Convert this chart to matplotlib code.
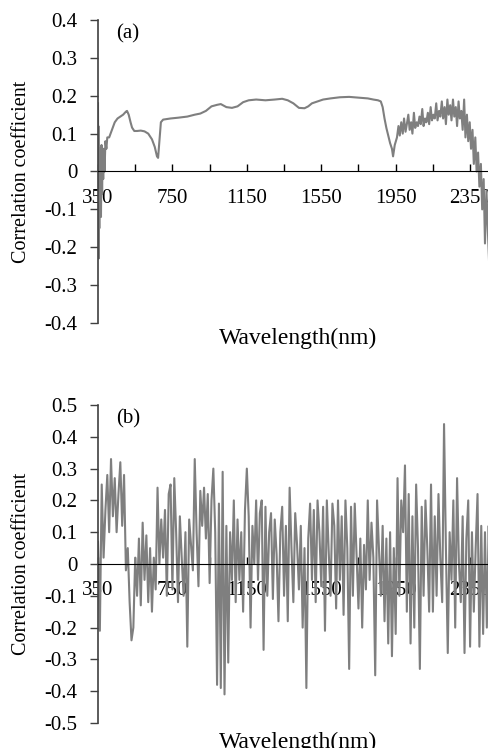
import matplotlib
matplotlib.use('Agg')
import matplotlib.pyplot as plt
import numpy as np

plt.rcParams['font.family'] = ['Liberation Serif', 'DejaVu Serif']

# (a) correlation curve
wl_a = [350, 351, 352, 353, 355, 357, 359, 361, 363, 366, 369, 372, 375, 378, 381, 385,
        390, 395, 400, 410, 425, 440, 455, 470, 485, 500, 506, 515, 525, 533, 545, 560,
        580, 600, 620, 640, 655, 667, 673, 680, 688, 700, 740, 780, 830, 870, 900, 930,
        960, 990, 1010, 1040, 1070, 1100, 1130, 1160, 1200, 1250, 1300, 1340, 1370, 1400,
        1430, 1460, 1480, 1500, 1530, 1560, 1600, 1650, 1700, 1750, 1800, 1830, 1855, 1870,
        1880, 1890, 1900, 1910, 1920, 1930, 1936, 1945, 1957,
        1965, 1972, 1980, 1988, 1995, 2003, 2010, 2018, 2025, 2033, 2040, 2048, 2055, 2063,
        2070, 2078, 2085, 2093, 2100, 2108, 2115, 2123, 2130, 2138, 2145, 2153, 2160, 2168,
        2175, 2183, 2190, 2198, 2205, 2213, 2220, 2228, 2235, 2243, 2250, 2258, 2265, 2273,
        2280, 2288, 2295, 2303, 2310, 2318, 2325, 2333, 2340, 2348, 2355, 2363, 2370, 2378,
        2385, 2393, 2400, 2408, 2415, 2423, 2430, 2438, 2445, 2453, 2460, 2470, 2480, 2490, 2500]
r_a = [0.18, -0.05, 0.12, -0.23, 0.03, -0.15, 0.06, -0.1, 0.05, -0.12, 0.07, -0.06, 0.05, -0.02, 0.06, 0.0,
       0.08, 0.06, 0.09, 0.09, 0.11, 0.13, 0.14, 0.145, 0.15, 0.158, 0.16, 0.15, 0.13, 0.116, 0.107, 0.107,
       0.108, 0.106, 0.1, 0.085, 0.065, 0.04, 0.036, 0.08, 0.13, 0.137, 0.14, 0.142, 0.145, 0.15, 0.153, 0.16,
       0.172, 0.176, 0.178, 0.17, 0.168, 0.172, 0.183, 0.188, 0.19, 0.188, 0.19, 0.192, 0.188, 0.18,
       0.168, 0.167, 0.172, 0.18, 0.185, 0.19, 0.193, 0.196, 0.197, 0.195, 0.193, 0.19, 0.188, 0.185,
       0.17, 0.14, 0.115, 0.095, 0.075, 0.06, 0.04, 0.07, 0.09,
       0.12, 0.095, 0.13, 0.1, 0.14, 0.105, 0.125, 0.15, 0.11, 0.13, 0.1, 0.155, 0.115, 0.13,
       0.12, 0.145, 0.125, 0.165, 0.12, 0.14, 0.13, 0.155, 0.125, 0.17, 0.135, 0.15, 0.14, 0.18,
       0.135, 0.16, 0.145, 0.185, 0.14, 0.17, 0.125, 0.19, 0.15, 0.175, 0.135, 0.19, 0.145, 0.17,
       0.12, 0.185, 0.14, 0.16, 0.11, 0.19, 0.09, 0.15, 0.08, 0.13, 0.06, 0.11, 0.02, 0.09,
       0.0, 0.05, -0.04, 0.02, -0.1, -0.02, -0.19, -0.05, -0.15, -0.25, -0.1, -0.2, -0.15, -0.25, -0.2]

# (b) correlation values, one every 10 nm from 350 to 2500
wl_b = np.arange(350, 2501, 10)
r_b = [0.07, -0.21, 0.25, 0.02, 0.17, 0.28, 0.1, 0.33, 0.15, 0.27,
       0.1, 0.22, 0.32, 0.12, 0.28, -0.02, 0.05, -0.12, -0.24, -0.2,
       0.02, -0.1, 0.08, -0.13, 0.13, -0.05, 0.09, -0.12, 0.05, -0.15,
       0.02, -0.08, 0.24, 0.0, 0.14, 0.02, 0.17, -0.1, 0.22, 0.25,
       -0.08, 0.27, 0.1, -0.12, 0.15, 0.02, -0.1, 0.1, -0.26, 0.14,
       0.06, -0.02, 0.33, 0.1, -0.07, 0.23, 0.12, 0.24, 0.08, 0.22,
       -0.06, 0.2, 0.3, 0.1, -0.38, 0.19, -0.39, 0.29, -0.41, 0.12,
       -0.31, 0.1, -0.05, 0.2, -0.12, 0.14, -0.05, 0.1, -0.15, 0.17,
       0.3, 0.15, -0.2, 0.12, 0.0, 0.2, -0.05, 0.16, 0.2, -0.27,
       0.18, -0.1, 0.1, 0.16, -0.11, 0.14, 0.03, -0.18, 0.1, 0.18,
       -0.1, 0.12, -0.18, 0.24, 0.05, -0.12, 0.16, 0.06, -0.08, 0.12,
       -0.2, 0.05, -0.39, 0.08, 0.19, -0.05, 0.17, -0.12, 0.2, 0.1,
       -0.07, 0.18, -0.21, 0.2, 0.04, -0.1, 0.19, 0.12, -0.14, 0.2,
       -0.05, 0.15, -0.16, 0.2, 0.05, -0.33, 0.18, -0.1, 0.19, 0.02,
       -0.14, 0.08, -0.2, 0.06, -0.08, 0.2, -0.05, 0.13, 0.02, -0.35,
       0.2, 0.05, -0.1, 0.12, -0.18, 0.08, -0.25, 0.1, -0.29, 0.05,
       -0.22, 0.27, -0.1, 0.2, 0.1, 0.31, -0.15, 0.22, -0.25, 0.15,
       -0.2, 0.25, 0.05, -0.33, 0.18, -0.1, 0.2, 0.05, -0.15, 0.25,
       -0.15, 0.15, -0.1, 0.22, 0.02, -0.12, 0.44, 0.05, -0.28, 0.1,
       -0.05, 0.2, -0.2, 0.27, 0.0, -0.12, 0.15, -0.28, 0.08, 0.2,
       -0.26, 0.1, -0.15, 0.05, 0.22, -0.26, 0.12, -0.22, 0.1, -0.2,
       0.12, -0.15, 0.1, -0.1, 0.05, -0.05]

W, H = 489, 748
fig = plt.figure(figsize=(W / 100, H / 100), dpi=100)

def px_axes(x0, y0, x1, y1):
    # axes box given in pixels from the top-left corner
    return fig.add_axes([x0 / W, (H - y1) / H, (x1 - x0) / W, (y1 - y0) / H])

ax1 = px_axes(98, 20, 498, 323)
ax2 = px_axes(98, 405, 498, 723)

def style(ax, lo, hi, tag, xlab_y):
    ax.set_xlim(350, 2500)
    ax.set_ylim(lo, hi)
    ax.set_yticks(np.round(np.arange(lo, hi + 0.01, 0.1), 1))
    ax.yaxis.set_major_formatter(plt.FuncFormatter(lambda v, p: '0' if abs(v) < 1e-9 else f'{v:.1f}'))
    ax.set_xticks(np.arange(350, 2501, 400))
    ax.set_xticks(np.arange(550, 2501, 400), minor=True)
    for s in ['top', 'right']:
        ax.spines[s].set_visible(False)
    ax.spines['bottom'].set_position(('data', 0))
    ax.spines['bottom'].set_color('black')
    ax.spines['left'].set_color('#404040')
    ax.spines['left'].set_linewidth(1.2)
    ax.tick_params(axis='x', which='both', direction='in', length=5.2, width=1, pad=12.5, labelsize=15)
    ax.tick_params(axis='y', direction='out', length=5.8, width=1, pad=9, labelsize=15, color='#404040')
    ax.set_ylabel('Correlation coefficient', fontsize=14.5, va='center')
    ax.yaxis.set_label_coords(-0.19, 0.5)
    ax.set_xlabel('Wavelength(nm)', fontsize=17, va='center')
    ax.xaxis.set_label_coords(0.5, xlab_y)
    ax.text(0.045, 0.955, tag, transform=ax.transAxes, fontsize=15, ha='left', va='center')

ax1.plot(wl_a, r_a, color='#7f7f7f', lw=1.5)
style(ax1, -0.4, 0.4, '(a)', -0.05)

ax2.plot(wl_b, r_b, color='#7f7f7f', lw=1.5)
style(ax2, -0.5, 0.5, '(b)', -0.06)

fig.savefig('out.png', dpi=100)
